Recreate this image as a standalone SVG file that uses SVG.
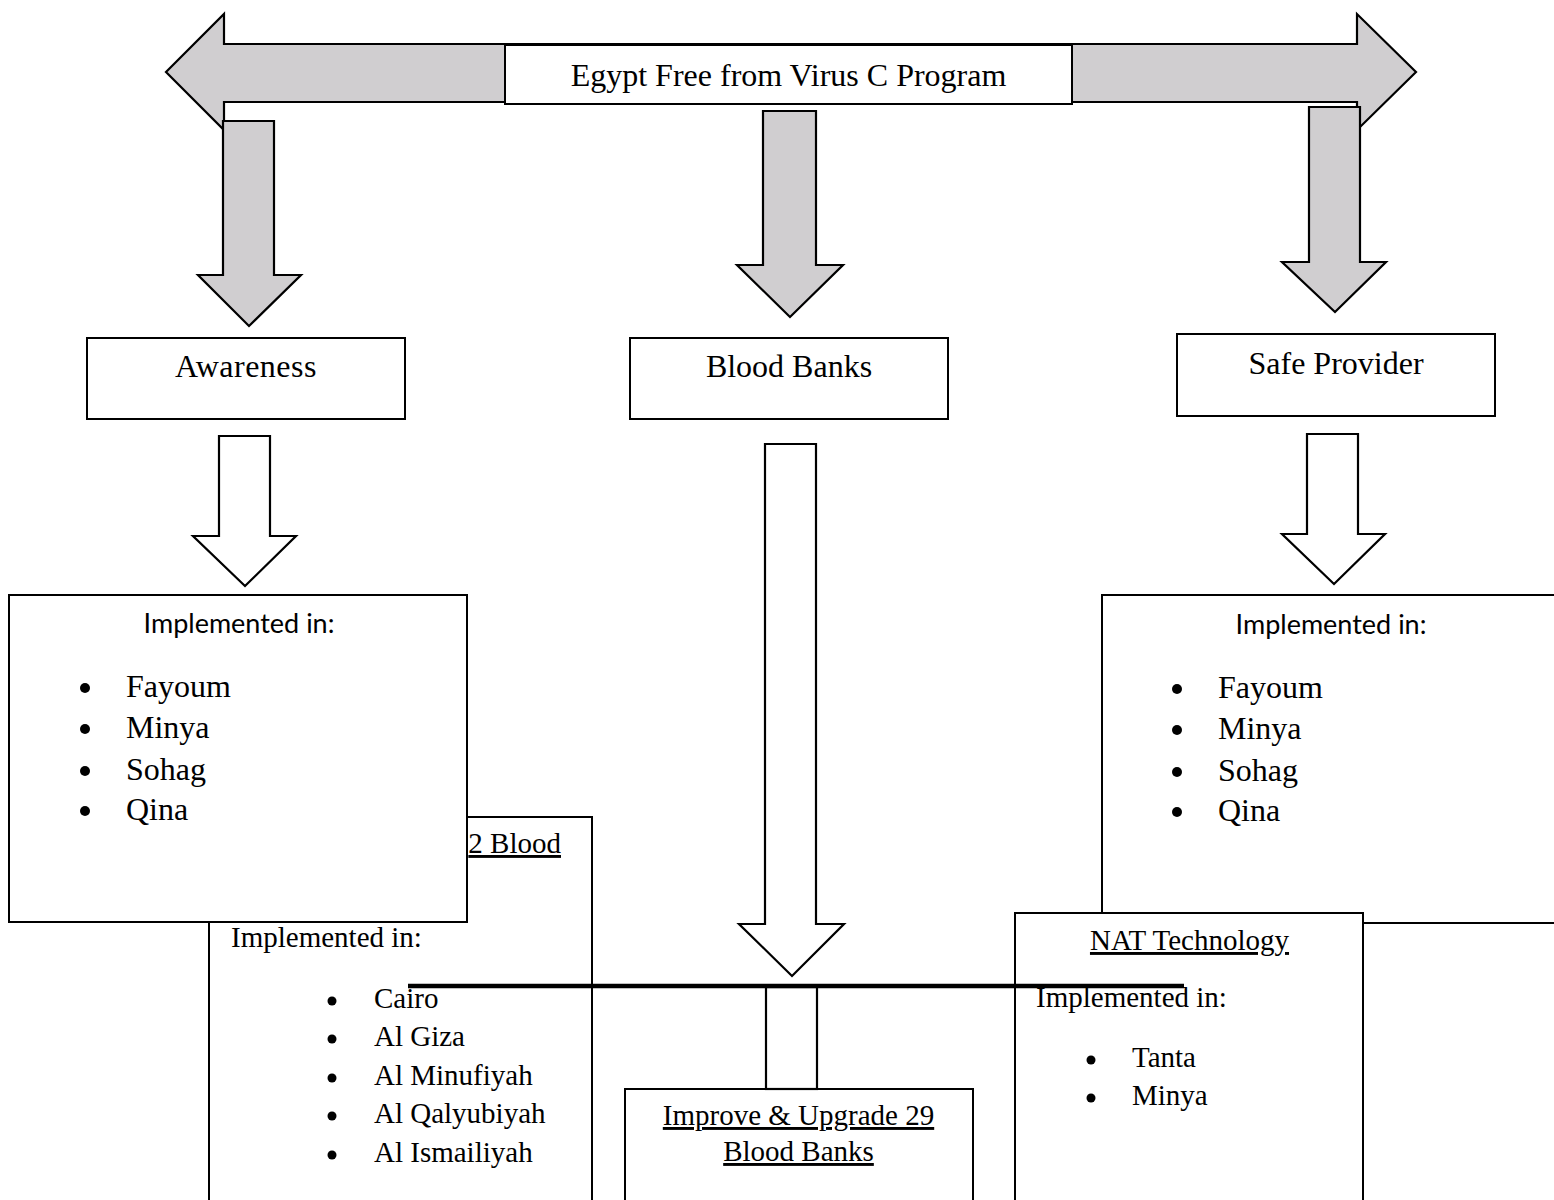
<svg xmlns="http://www.w3.org/2000/svg" width="1554" height="1200" viewBox="0 0 1554 1200">
<style>
  .gray { fill: #d0ced0; stroke: #000; stroke-width: 2.2; stroke-linejoin: miter; }
  .hollow { fill: #fff; stroke: #000; stroke-width: 2.2; }
  .box { fill: #fff; stroke: #000; stroke-width: 2; }
  .serif { font-family: "Liberation Serif", "Times New Roman", serif; fill: #000; }
  .t32 { font-size: 32px; }
  .t29 { font-size: 29px; }
  .sans { font-family: Lato, "Liberation Sans", sans-serif; font-size: 27px; fill: #000; }
  .u { text-decoration: underline; }
  .mid { text-anchor: middle; }
</style>
<rect x="0" y="0" width="1554" height="1200" fill="#fff"/>

<g id="connectors">
  <path id="top-double-arrow" class="gray" d="M166,72 L224,14 L224,44 L1357,44 L1357,14 L1416,72 L1357,130 L1357,102 L224,102 L224,130 Z"/>
  <path id="arrow-awareness" class="gray" d="M223,121 L274,121 L274,275 L301,275 L249,326 L198,275 L223,275 Z"/>
  <path id="arrow-bloodbanks" class="gray" d="M763,111 L816,111 L816,265 L843,265 L790,317 L737,265 L763,265 Z"/>
  <path id="arrow-safeprovider" class="gray" d="M1309,107 L1360,107 L1360,262 L1386,262 L1335,312 L1282,262 L1309,262 Z"/>
  <path id="arrow-awareness-impl" class="hollow" d="M219,436 L270,436 L270,536 L296,536 L245,586 L193,536 L219,536 Z"/>
  <path id="arrow-safe-impl" class="hollow" d="M1307,434 L1358,434 L1358,534 L1385,534 L1334,584 L1282,534 L1307,534 Z"/>
  <path id="arrow-blood-down" class="hollow" d="M765,444 L816,444 L816,924 L844,924 L792,976 L739,924 L765,924 Z"/>
</g>

<g id="node-title">
  <rect class="box" x="505" y="45" width="567" height="59"/>
  <text class="serif t32 mid" x="788.5" y="86">Egypt Free from Virus C Program</text>
</g>

<g id="node-awareness">
  <rect class="box" x="87" y="338" width="318" height="81"/>
  <text class="serif t32 mid" x="246" y="377" letter-spacing="0.5">Awareness</text>
</g>

<g id="node-bloodbanks">
  <rect class="box" x="630" y="338" width="318" height="81"/>
  <text class="serif t32 mid" x="789" y="377">Blood Banks</text>
</g>

<g id="node-safeprovider">
  <rect class="box" x="1177" y="334" width="318" height="82"/>
  <text class="serif t32 mid" x="1336" y="374">Safe Provider</text>
</g>

<g id="node-upgrade-blood">
  <rect class="box" x="209" y="817" width="383" height="400"/>
  <text class="serif t29 u" x="561" y="853" text-anchor="end">2 Blood</text>
  <text class="serif t29" x="231" y="947">Implemented in:</text>
  <circle cx="332" cy="1001" r="4.5"/><text class="serif t29" x="374" y="1008">Cairo</text>
  <circle cx="332" cy="1039" r="4.5"/><text class="serif t29" x="374" y="1046">Al Giza</text>
  <circle cx="332" cy="1078" r="4.5"/><text class="serif t29" x="374" y="1085">Al Minufiyah</text>
  <circle cx="332" cy="1116" r="4.5"/><text class="serif t29" x="374" y="1123">Al Qalyubiyah</text>
  <circle cx="332" cy="1155" r="4.5"/><text class="serif t29" x="374" y="1162">Al Ismailiyah</text>
</g>

<g id="node-awareness-impl">
  <rect class="box" x="9" y="595" width="458" height="327"/>
  <text class="sans mid" x="239" y="633">Implemented in:</text>
  <circle cx="85" cy="688" r="5"/><text class="serif t32" x="126" y="697">Fayoum</text>
  <circle cx="85" cy="729" r="5"/><text class="serif t32" x="126" y="738">Minya</text>
  <circle cx="85" cy="771" r="5"/><text class="serif t32" x="126" y="780">Sohag</text>
  <circle cx="85" cy="811" r="5"/><text class="serif t32" x="126" y="820">Qina</text>
</g>

<g id="node-safe-impl">
  <rect class="box" x="1102" y="595" width="470" height="328"/>
  <text class="sans mid" x="1331" y="634">Implemented in:</text>
  <circle cx="1177" cy="689" r="5"/><text class="serif t32" x="1218" y="698">Fayoum</text>
  <circle cx="1177" cy="730" r="5"/><text class="serif t32" x="1218" y="739">Minya</text>
  <circle cx="1177" cy="772" r="5"/><text class="serif t32" x="1218" y="781">Sohag</text>
  <circle cx="1177" cy="812" r="5"/><text class="serif t32" x="1218" y="821">Qina</text>
</g>

<g id="node-nat">
  <rect class="box" x="1015" y="913" width="348" height="300"/>
  <text class="serif t29 u mid" x="1189.5" y="950">NAT Technology</text>
  <text class="serif t29" x="1036" y="1007">Implemented in:</text>
  <circle cx="1091" cy="1060" r="4.5"/><text class="serif t29" x="1132" y="1067">Tanta</text>
  <circle cx="1091" cy="1098" r="4.5"/><text class="serif t29" x="1132" y="1105">Minya</text>
</g>

<g id="node-improve">
  <rect class="box" x="625" y="1089" width="348" height="130"/>
  <text class="serif t29 u mid" x="798.5" y="1125">Improve &amp; Upgrade 29</text>
  <text class="serif t29 u mid" x="798.5" y="1161">Blood Banks</text>
</g>

<g id="connectors-lower">
  <rect class="hollow" x="766" y="987" width="51" height="102"/>
  <line x1="408" y1="986" x2="1184" y2="986" stroke="#000" stroke-width="4.5"/>
</g>
</svg>
